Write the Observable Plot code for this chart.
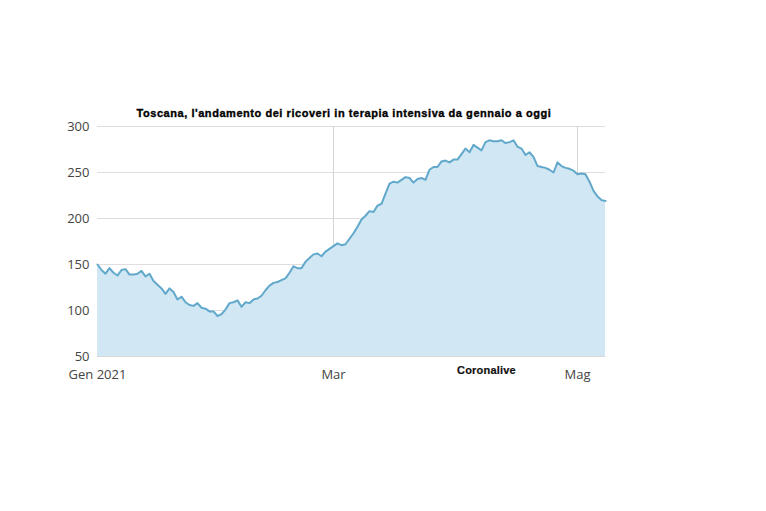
<!DOCTYPE html>
<html>
<head>
<meta charset="utf-8">
<script src="https://cdn.jsdelivr.net/npm/d3@7"></script>
<script src="https://cdn.jsdelivr.net/npm/@observablehq/plot@0.6"></script>
<style>
  html, body { margin: 0; padding: 0; background: #fff; }
  #wrap { position: relative; width: 766px; height: 511px; overflow: hidden; }
  #title { position: absolute; left: 0; width: 688px; top: 107px; text-align: center;
    font-family: "Liberation Sans", Arial, sans-serif; font-weight: 700; font-size: 11px; color: #000;
    letter-spacing: 0.55px; -webkit-text-stroke: 0.35px #000; }
  #source { position: absolute; left: 457px; top: 364px;
    font-family: "Liberation Sans", Arial, sans-serif; font-weight: 700; font-size: 11px; color: #111;
    letter-spacing: 0.2px; -webkit-text-stroke: 0.2px #111; }
</style>
</head>
<body>
<div id="wrap">
  <div id="chart"></div>
  <div id="title"></div>
  <div id="source"></div>
</div>
<script>
const titleText = "Toscana, l'andamento dei ricoveri in terapia intensiva da gennaio a oggi";
const sourceText = "Coronalive";
const startDate = "2021-01-01";
// Daily ICU patients in Tuscany, Jan 1 – May 8 2021
const values = [
  150, 144, 140, 146, 141, 138, 144, 145, 139, 139,
  140, 143, 137, 140, 132, 128, 124, 118, 124, 120,
  112, 115, 109, 106, 105, 108, 103, 102, 99, 99,
  94, 96, 101, 108, 109, 111, 104, 109, 108, 112,
  113, 116, 122, 127, 130, 131, 133, 135, 141, 148,
  146, 146, 153, 157, 161, 162, 159, 164, 167, 170,
  173, 171, 172, 178, 184, 191, 199, 203, 208, 207,
  214, 216, 227, 238, 240, 239, 242, 245, 244, 239,
  243, 244, 242, 253, 256, 256, 262, 263, 261, 264,
  264, 270, 276, 272, 280, 277, 274, 283, 285, 284,
  284, 285, 282, 283, 285, 278, 276, 269, 272, 267,
  257, 256, 255, 253, 250, 261, 257, 255, 254, 252,
  248, 249, 248, 240, 230, 224, 220, 219
];
const yTicks = [50, 100, 150, 200, 250, 300];
const xTickDates = ["2021-01-01", "2021-03-01", "2021-05-01"];
const xTickLabels = ["Gen 2021", "Mar", "Mag"];

document.getElementById("title").textContent = titleText;
document.getElementById("source").textContent = sourceText;

const start = new Date(startDate + "T00:00:00Z");
const data = values.map((v, i) => ({ date: d3.utcDay.offset(start, i), value: v }));
const xTicks = xTickDates.map(s => new Date(s + "T00:00:00Z"));
const labelOf = new Map(xTicks.map((d, i) => [+d, xTickLabels[i]]));

const chart = Plot.plot({
  width: 766,
  height: 511,
  marginLeft: 97,
  marginRight: 161,
  marginTop: 126,
  marginBottom: 155,
  style: { fontFamily: "'Open Sans', 'Noto Sans', sans-serif", fontSize: "13px", color: "#444", background: "#fff" },
  x: { type: "utc", domain: [start, data[data.length - 1].date] },
  y: { domain: [50, 300] },
  marks: [
    Plot.gridY(yTicks, { stroke: "#dedede", strokeOpacity: 1 }),
    Plot.ruleX(xTicks.slice(1), { stroke: "#d4d4d4", strokeOpacity: 1 }),
    Plot.areaY(data, { x: "date", y1: 50, y2: "value", fill: "#d1e8f4", fillOpacity: 1, curve: "linear" }),
    Plot.lineY(data, { x: "date", y: "value", stroke: "#62a8cb", strokeWidth: 2, curve: "linear" }),
    Plot.ruleY([50], { stroke: "#d8d8d8" }),
    Plot.axisY(yTicks, { tickSize: 0, tickPadding: 8, label: null, fontSize: 13, fill: "#444" }),
    Plot.axisX(xTicks, { tickSize: 0, tickPadding: 13, label: null, fontSize: 13, fill: "#444",
      tickFormat: d => labelOf.get(+d) })
  ]
});
document.getElementById("chart").appendChild(chart);
</script>
</body>
</html>
